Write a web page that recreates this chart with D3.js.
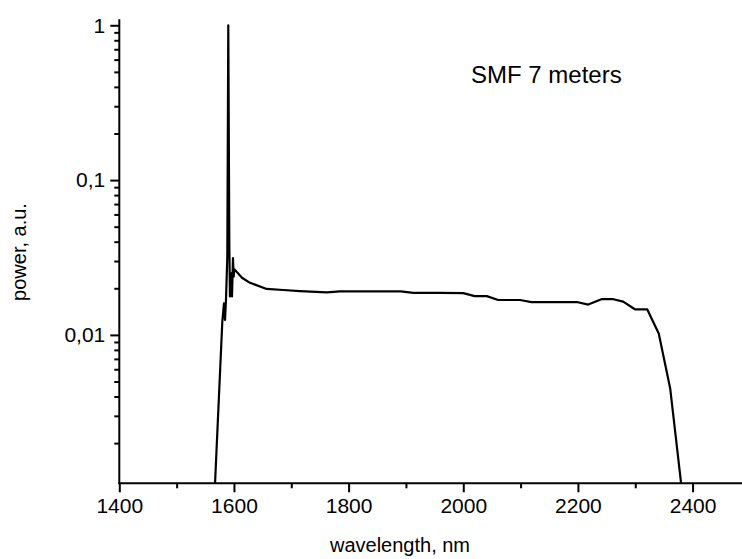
<!DOCTYPE html>
<html>
<head>
<meta charset="utf-8">
<script src="https://cdn.jsdelivr.net/npm/d3@7"></script>
<style>
  html, body { margin: 0; padding: 0; background: #fff; }
  svg { display: block; font-family: Arial, "Liberation Sans", sans-serif; }
</style>
</head>
<body>
<svg id="chart" width="742" height="559"></svg>
<script>
// Supercontinuum spectrum after 7 m of single-mode fibre
const wavelength = [
  1567, 1579.7, 1582.6, 1584.4, 1586.1, 1588.4, 1590.1, 1591.9, 1593, 1595.4,
  1596.6, 1598.3, 1599.5, 1600.6, 1614, 1628, 1657, 1686, 1715, 1762,
  1785, 1891, 1913, 1959, 2000, 2020, 2041, 2061, 2099, 2119,
  2198, 2218, 2241, 2262, 2279, 2300, 2321, 2341, 2361, 2380
];
const power = [
  0.0011, 0.0122, 0.016, 0.0125, 0.0168, 0.032, 1.0, 0.039, 0.0177, 0.025,
  0.0177, 0.0313, 0.0238, 0.0266, 0.0234, 0.0217, 0.0198, 0.0195, 0.0192, 0.0188,
  0.0191, 0.0191, 0.0187, 0.0187, 0.0186, 0.0178, 0.0178, 0.0168, 0.0168, 0.0163,
  0.0163, 0.0157, 0.0170, 0.0170, 0.0164, 0.0146, 0.0146, 0.0102, 0.0045, 0.0011
];
const xTicks = [1400, 1600, 1800, 2000, 2200, 2400];
const xMinorTicks = [1500, 1700, 1900, 2100, 2300];
const yTicks = [0.01, 0.1, 1];
const yTickLabels = ["0,01", "0,1", "1"];
const xDomain = [1400, 2500];
const yDomain = [0.0011, 1.093];

const svg = d3.select("#chart");
const mLeft = 119.3, mRight = 749.9, mTop = 19.3, mBottom = 483.3;

const x = d3.scaleLinear().domain(xDomain).range([mLeft, mRight]);
const y = d3.scaleLog().domain(yDomain).range([mBottom, mTop]);

// minor log ticks 2..9 in each decade
const yMinor = [];
[0.001, 0.01, 0.1].forEach(d => {
  for (let k = 2; k <= 9; k++) {
    const v = d * k;
    if (v >= yDomain[0] && v <= yDomain[1]) yMinor.push(v);
  }
});

svg.append("defs").append("clipPath").attr("id", "plot")
  .append("rect").attr("x", mLeft).attr("y", mTop - 10)
  .attr("width", mRight - mLeft).attr("height", mBottom - mTop + 10);

// curve
const pts = wavelength.map((w, i) => [w, power[i]]);
svg.append("path")
  .datum(pts)
  .attr("clip-path", "url(#plot)")
  .attr("fill", "none")
  .attr("stroke", "#000")
  .attr("stroke-width", 2.2)
  .attr("stroke-linejoin", "round")
  .attr("d", d3.line().x(d => x(d[0])).y(d => y(d[1])));

// bottom axis
const xAxis = svg.append("g").attr("transform", `translate(0,${mBottom})`);
xAxis.append("g")
  .call(d3.axisBottom(x).tickValues(xMinorTicks).tickSize(5).tickFormat(""))
  .call(g => g.select(".domain").remove());
xAxis.append("g")
  .call(d3.axisBottom(x).tickValues(xTicks).tickSize(9).tickPadding(6).tickFormat(d3.format("d")))
  .call(g => g.select(".domain").attr("stroke-width", 2).attr("d", `M${mLeft - 1},0H${mRight}`));
xAxis.selectAll("line").attr("stroke-width", 2);
xAxis.selectAll("text").attr("font-size", 21).attr("fill", "#000")
  .attr("font-family", "Arial, 'Liberation Sans', sans-serif");

// left axis
const yAxis = svg.append("g").attr("transform", `translate(${mLeft},0)`);
yAxis.append("g")
  .call(d3.axisLeft(y).tickValues(yMinor).tickSize(5).tickFormat(""))
  .call(g => g.select(".domain").remove());
yAxis.append("g")
  .call(d3.axisLeft(y).tickValues(yTicks).tickSize(9).tickPadding(5)
    .tickFormat((d, i) => yTickLabels[i]))
  .call(g => g.select(".domain").attr("stroke-width", 2).attr("d", `M0,${mTop}V${mBottom + 1}`));
yAxis.selectAll("line").attr("stroke-width", 2);
yAxis.selectAll("text").attr("font-size", 21).attr("fill", "#000")
  .attr("font-family", "Arial, 'Liberation Sans', sans-serif");

// axis titles
svg.append("text")
  .attr("x", 400).attr("y", 552)
  .attr("text-anchor", "middle")
  .attr("font-size", 20)
  .text("wavelength, nm");

svg.append("text")
  .attr("transform", "translate(26,252) rotate(-90)")
  .attr("text-anchor", "middle")
  .attr("font-size", 20)
  .text("power, a.u.");

// annotation
svg.append("text")
  .attr("x", 471).attr("y", 83)
  .attr("font-size", 24)
  .text("SMF 7 meters");
</script>
</body>
</html>
